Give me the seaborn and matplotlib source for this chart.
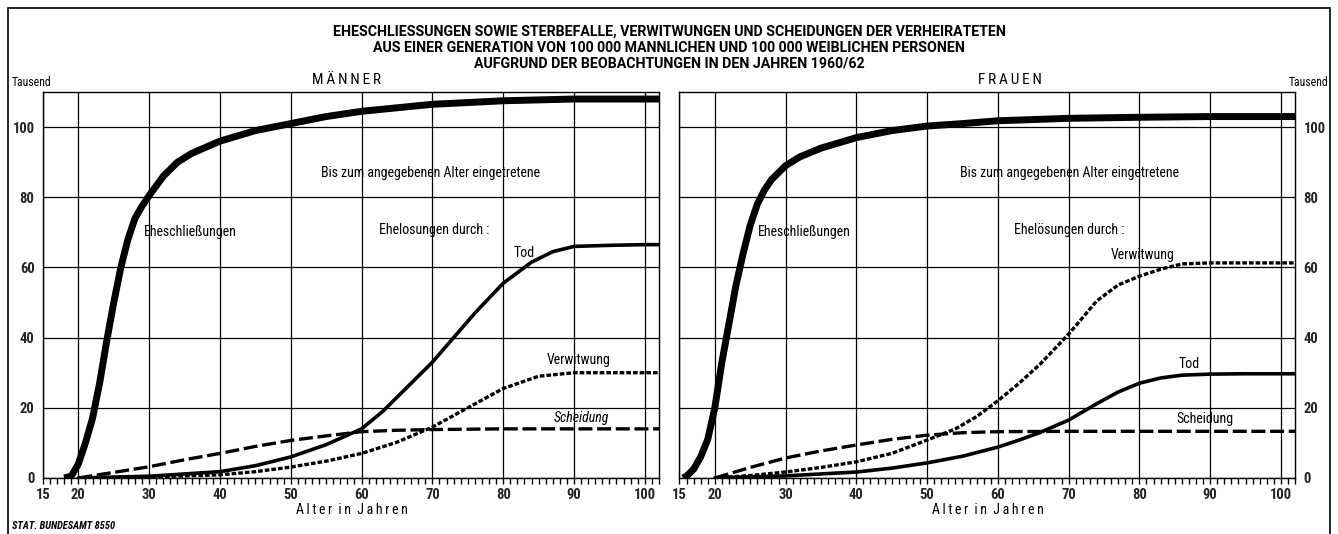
import numpy as np
import pandas as pd
import matplotlib
matplotlib.use("Agg")
import matplotlib.pyplot as plt
import seaborn as sns

# ------------------------
# DATA (Tausend, nach Alter in Jahren)
# ------------------------

m_ehe_age = [18, 19, 20, 21, 22, 23, 24, 25, 26, 27, 28, 29, 30, 32, 34, 36, 40, 45, 50, 55, 60, 70, 80, 90, 100, 102]
m_ehe_val = [0, 0.5, 4, 10, 17, 27, 39, 50, 60, 68, 74, 77.5, 80.5, 86, 90, 92.5, 96, 99, 101, 103, 104.5, 106.5, 107.5, 108, 108, 108]

m_tod_age = [20, 30, 40, 45, 50, 55, 60, 63, 66, 70, 73, 76, 80, 84, 87, 90, 95, 100, 102]
m_tod_val = [0, 0.5, 1.8, 3.5, 6, 9.5, 14, 19, 25, 33, 40, 47, 55.5, 61.5, 64.5, 66, 66.3, 66.5, 66.5]

m_verw_age = [20, 30, 40, 45, 50, 55, 60, 65, 70, 75, 80, 85, 90, 95, 100, 102]
m_verw_val = [0, 0.3, 0.9, 1.8, 3.1, 4.8, 7, 10.2, 14.5, 20, 25.5, 29, 30, 30, 30, 30]

m_sch_age = [20, 25, 30, 35, 40, 45, 50, 55, 60, 65, 70, 80, 90, 100, 102]
m_sch_val = [0, 1.6, 3.2, 5.2, 7, 9, 10.7, 12, 13.2, 13.6, 13.8, 14, 14, 14, 14]

f_ehe_age = [15.5, 16, 17, 18, 19, 20, 21, 22, 23, 24, 25, 26, 27, 28, 30, 32, 35, 40, 45, 50, 55, 60, 70, 80, 90, 100, 102]
f_ehe_val = [0, 0.5, 2.5, 6, 11, 20, 33, 44, 55, 64, 72, 78, 82, 85, 89, 91.5, 94, 97, 99, 100.3, 101, 101.8, 102.5, 102.8, 103, 103, 103]

f_tod_age = [20, 30, 40, 45, 50, 55, 60, 63, 66, 70, 74, 77, 80, 83, 86, 90, 95, 100, 102]
f_tod_val = [0, 0.6, 1.7, 2.8, 4.3, 6.2, 8.8, 10.8, 13, 16.5, 21.2, 24.5, 27, 28.5, 29.3, 29.6, 29.7, 29.7, 29.7]

f_verw_age = [20, 25, 30, 35, 40, 45, 50, 54, 57, 60, 63, 66, 70, 74, 77, 80, 83, 86, 90, 95, 100, 102]
f_verw_val = [0, 0.7, 1.7, 3, 4.6, 7, 10.8, 14, 17.5, 22, 27, 32.5, 41, 50.5, 55, 57.5, 59.5, 61, 61.3, 61.3, 61.3, 61.3]

f_sch_age = [20, 25, 30, 35, 40, 45, 50, 55, 60, 70, 80, 90, 100, 102]
f_sch_val = [0, 3, 5.7, 7.7, 9.4, 11, 12.2, 12.9, 13.2, 13.3, 13.3, 13.3, 13.3, 13.3]

x_ticks = [15, 20, 30, 40, 50, 60, 70, 80, 90, 100]
y_ticks = [0, 20, 40, 60, 80, 100]

title_lines = [
    "EHESCHLIESSUNGEN SOWIE STERBEFALLE, VERWITWUNGEN UND SCHEIDUNGEN DER VERHEIRATETEN",
    "AUS EINER GENERATION VON 100 000 MANNLICHEN UND 100 000 WEIBLICHEN PERSONEN",
    "AUFGRUND DER BEOBACHTUNGEN IN DEN JAHREN 1960/62",
]

# ------------------------
# STYLE
# ------------------------

FONT = ["Roboto Condensed", "Liberation Sans Narrow", "Roboto", "DejaVu Sans"]
TITLE_FONT = ["Roboto", "DejaVu Sans"]

sns.set_theme(style="white")
plt.rcParams["font.family"] = FONT
plt.rcParams["text.color"] = "black"

STYLES = {
    "ehe": dict(linewidth=5.0, linestyle="-", solid_capstyle="butt"),
    "tod": dict(linewidth=2.6, linestyle="-"),
    "verw": dict(linewidth=2.4, linestyle=(0, (1.4, 0.6))),
    "sch": dict(linewidth=2.4, linestyle=(0, (4.2, 1.4))),
}


def spaced(word):
    # gesperrter Satz: thin spaces between letters
    return "  ".join("\u2009".join(w) for w in word.split(" "))


def draw_panel(ax, series, right=False):
    for key, age, val in series:
        df = pd.DataFrame({"age": age, "val": val})
        sns.lineplot(data=df, x="age", y="val", ax=ax, color="black",
                     estimator=None, sort=True, **STYLES[key])

    ax.set_xlim(15, 102)
    ax.set_ylim(0, 110)
    ax.set_xticks(x_ticks)
    ax.set_xticks(np.arange(15, 103, 1), minor=True)
    ax.set_yticks(y_ticks)
    ax.grid(True, which="major", color="black", linewidth=0.9)
    ax.set_axisbelow(True)
    for s in ax.spines.values():
        s.set_color("black")
        s.set_linewidth(1.0)

    ax.tick_params(axis="x", which="both", direction="out", length=4.5,
                   width=1.0, color="black", bottom=True)
    ax.tick_params(axis="x", which="major", labelsize=10.5, pad=3)
    ax.tick_params(axis="y", which="both", length=0, labelsize=10.5, pad=6)
    if right:
        ax.yaxis.tick_right()
    for lab in ax.get_xticklabels() + ax.get_yticklabels():
        lab.set_fontweight("bold")
    ax.set_xlabel("")
    ax.set_ylabel("")


fig = plt.figure(figsize=(13.38, 5.34), dpi=100)

ax1 = fig.add_axes([0.0321, 0.1049, 0.4604, 0.7228])
ax2 = fig.add_axes([0.5078, 0.1049, 0.4601, 0.7228])

draw_panel(ax1, [("ehe", m_ehe_age, m_ehe_val), ("tod", m_tod_age, m_tod_val),
                 ("verw", m_verw_age, m_verw_val), ("sch", m_sch_age, m_sch_val)])
draw_panel(ax2, [("ehe", f_ehe_age, f_ehe_val), ("tod", f_tod_age, f_tod_val),
                 ("verw", f_verw_age, f_verw_val), ("sch", f_sch_age, f_sch_val)],
           right=True)

# labels in the panels
txt = dict(fontsize=10, color="black")
ax1.text(29.2, 70, "Eheschließungen", ha="left", va="center", **txt)
ax1.text(54.3, 87, "Bis zum angegebenen Alter eingetretene", ha="left", va="center", **txt)
ax1.text(62.5, 70.7, "Ehelosungen durch :", ha="left", va="center", **txt)
ax1.text(83, 64, "Tod", ha="center", va="center", **txt)
ax1.text(90.7, 33.5, "Verwitwung", ha="center", va="center", **txt)
ax1.text(91, 17.2, "Scheidung", ha="center", va="center", style="italic", **txt)

ax2.text(26.1, 70, "Eheschließungen", ha="left", va="center", **txt)
ax2.text(54.6, 87, "Bis zum angegebenen Alter eingetretene", ha="left", va="center", **txt)
ax2.text(62.3, 70.7, "Ehelösungen durch :", ha="left", va="center", **txt)
ax2.text(80.5, 63.5, "Verwitwung", ha="center", va="center", **txt)
ax2.text(87, 32.5, "Tod", ha="center", va="center", **txt)
ax2.text(89.3, 16.8, "Scheidung", ha="center", va="center", **txt)

# title and headings
for i, line in enumerate(title_lines):
    fig.text(0.5, 1 - (32 + 15.5 * i) / 534, line, ha="center", va="center",
             fontsize=10.2, fontweight="bold", family=TITLE_FONT)

fig.text(347 / 1338, 1 - 80 / 534, spaced("MÄNNER"), ha="center", va="center", fontsize=11)
fig.text(1010 / 1338, 1 - 80 / 534, spaced("FRAUEN"), ha="center", va="center", fontsize=11)
fig.text(12 / 1338, 1 - 83 / 534, "Tausend", ha="left", va="center", fontsize=8.5)
fig.text(1328 / 1338, 1 - 83 / 534, "Tausend", ha="right", va="center", fontsize=8.5)
fig.text(352 / 1338, 1 - 510 / 534, spaced("Alter in Jahren"), ha="center",
         va="center", fontsize=10)
fig.text(988 / 1338, 1 - 510 / 534, spaced("Alter in Jahren"), ha="center",
         va="center", fontsize=10)
fig.text(12 / 1338, 1 - 526 / 534, "STAT. BUNDESAMT 8550", ha="left", va="center",
         fontsize=7.5, fontweight="bold", style="italic")

# outer frame
frame = plt.Rectangle((8 / 1338, -0.02), 1322 / 1338, 1.0 - 8 / 534 + 0.02,
                      transform=fig.transFigure, fill=False, edgecolor="black",
                      linewidth=1.2)
fig.patches.append(frame)

fig.savefig("out.png", dpi=100, facecolor="white")
